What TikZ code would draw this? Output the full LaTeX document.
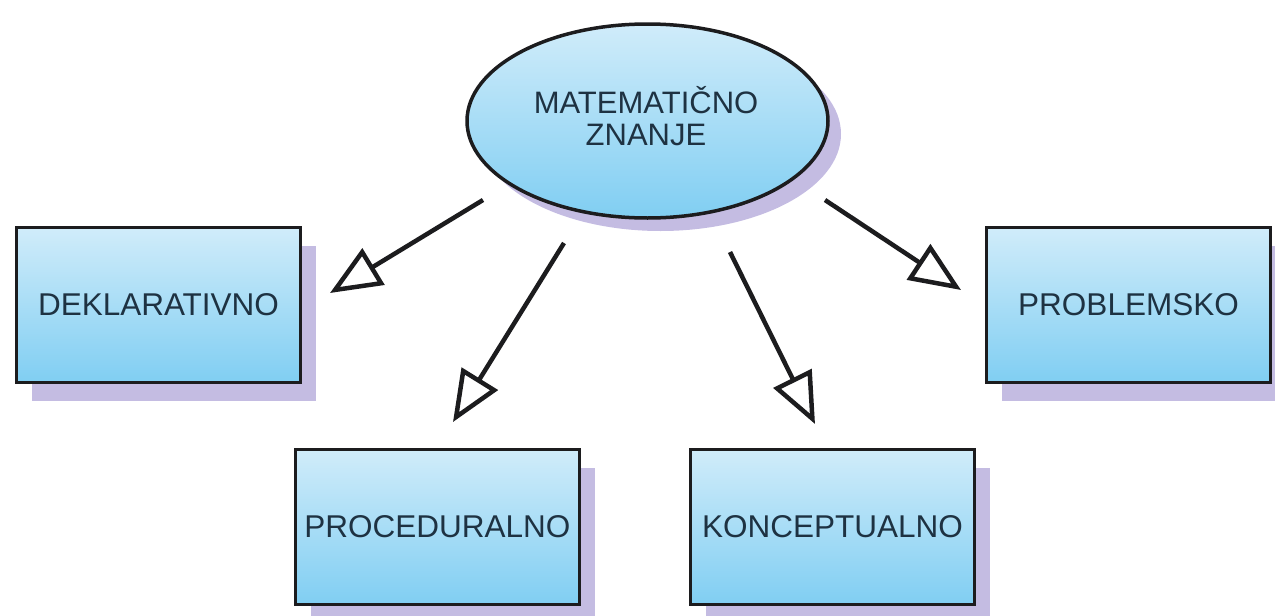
\documentclass[tikz,border=0pt]{standalone}
\usepackage{fontspec}
\setmainfont{Liberation Sans}
\usetikzlibrary{arrows.meta,shapes.geometric,shadows}
\definecolor{topc}{RGB}{208,236,250}
\definecolor{botc}{RGB}{128,206,242}
\definecolor{shadc}{RGB}{196,188,226}
\definecolor{edgec}{RGB}{28,28,30}
\definecolor{txtc}{RGB}{30,50,66}
\tikzset{
  conceptbox/.style={rectangle, draw=edgec, line width=3.5pt,
    top color=topc, bottom color=botc,
    minimum width=284pt, minimum height=155pt, inner sep=0pt,
    text=txtc, font=\fontsize{31.5}{32}\selectfont,
    drop shadow={shadow xshift=15pt, shadow yshift=-18pt, fill=shadc, opacity=1}},
  rootnode/.style={ellipse, draw=edgec, line width=3.5pt,
    top color=topc, bottom color=botc,
    minimum width=361pt, minimum height=194pt, inner sep=0pt,
    drop shadow={shadow xshift=13pt, shadow yshift=-13pt, fill=shadc, opacity=1}},
  roottext/.style={inner sep=0pt, text=txtc, align=center,
    font=\fontsize{31}{32}\selectfont},
  link/.style={draw=edgec, line width=4.5pt,
    -{Triangle[open, length=51pt, width=42pt, line width=4.5pt]}}
}
\begin{document}
\begin{tikzpicture}[x=1pt,y=-1pt]
\useasboundingbox (0,0) rectangle (1275,616);
\node[rootnode] (root) at (647.5,121) {};
\node[roottext] (roottxt) at (646,116) {MATEMATIČNO\\ZNANJE};
\node[conceptbox] (dek) at (158.5,305) {DEKLARATIVNO};
\node[conceptbox] (pbm) at (1128.5,305) {PROBLEMSKO};
\node[conceptbox] (pro) at (437.5,527) {PROCEDURALNO};
\node[conceptbox] (kon) at (832.5,527) {KONCEPTUALNO};
\coordinate (s1) at (483,200);
\coordinate (t1) at (330,293);
\coordinate (s2) at (564,243);
\coordinate (t2) at (453,422);
\coordinate (s3) at (730,252);
\coordinate (t3) at (815,424);
\coordinate (s4) at (825,200);
\coordinate (t4) at (961,290);
\draw[link] (s1) -- (t1);
\draw[link] (s2) -- (t2);
\draw[link] (s3) -- (t3);
\draw[link] (s4) -- (t4);
\end{tikzpicture}
\end{document}
